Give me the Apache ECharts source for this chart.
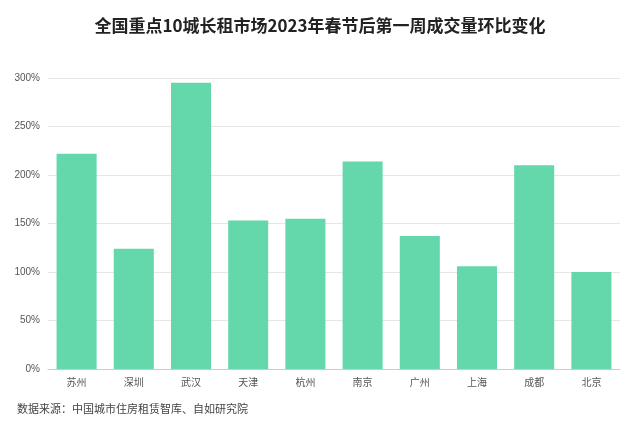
<!DOCTYPE html>
<html>
<head>
<meta charset="utf-8">
<script src="https://cdn.jsdelivr.net/npm/echarts@6/dist/echarts.min.js"></script>
<style>html,body{margin:0;padding:0;background:#fff}#chart{width:640px;height:426px}</style>
</head>
<body>
<div id="chart"></div>
<script>
const cities = ['苏州', '深圳', '武汉', '天津', '杭州', '南京', '广州', '上海', '成都', '北京']
const ratios = [222, 124, 295, 153, 155, 214, 137, 106, 210, 100]

const chart = echarts.init(document.getElementById('chart'))
chart.setOption({
  title: [{
    text: '全国重点10城长租市场2023年春节后第一周成交量环比变化',
    left: 'center',
    top: 12,
    textStyle: { fontSize: 17, fontWeight: 'bold', color: '#222', fontFamily: 'Noto Sans CJK SC' }
  }, {
    text: '数据来源：中国城市住房租赁智库、自如研究院',
    left: 12,
    top: 398,
    textStyle: { fontSize: 11, fontWeight: 'normal', color: '#444', fontFamily: 'Noto Sans CJK SC' }
  }],
  grid: { left: 48, right: 20, top: 78, bottom: 57 },
  xAxis: {
    type: 'category',
    data: cities,
    axisTick: { show: false },
    axisLine: { lineStyle: { color: '#ccc' } },
    axisLabel: { color: '#555', fontSize: 10, fontFamily: 'Noto Sans CJK SC' }
  },
  yAxis: {
    type: 'value',
    min: 0,
    max: 300,
    interval: 50,
    axisLabel: { color: '#555', fontSize: 10, formatter: '{value}%' },
    splitLine: { lineStyle: { color: '#e6e6e6' } }
  },
  series: [{
    type: 'bar',
    data: ratios,
    barWidth: '70%',
    itemStyle: { color: '#64d8aa' }
  }]
})
</script>
</body>
</html>
